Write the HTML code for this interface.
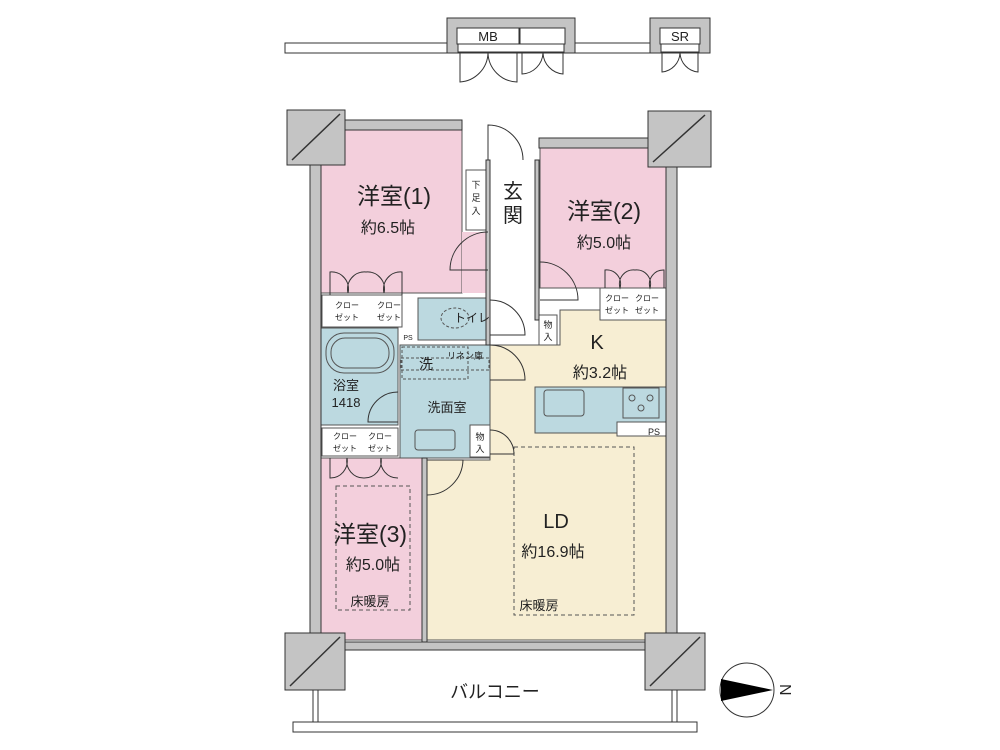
<!DOCTYPE html>
<html><head><meta charset="utf-8"><style>
html,body{margin:0;padding:0;background:#fff}
svg{display:block}
text{font-family:"Liberation Sans","Noto Sans CJK JP",sans-serif;fill:#222}
</style></head><body>
<svg width="1000" height="750" viewBox="0 0 1000 750" xmlns="http://www.w3.org/2000/svg">
<g stroke="#333" stroke-width="1">
<rect x="285" y="43" width="163" height="10" fill="#fff"/>
<rect x="575" y="43" width="75" height="10" fill="#fff"/>
<rect x="447" y="18" width="128" height="35" fill="#c4c4c4"/>
<rect x="457" y="28" width="62" height="16" fill="#fff"/>
<rect x="520" y="28" width="45" height="16" fill="#fff"/>
<rect x="458" y="44" width="106" height="8" fill="#fff"/>
<rect x="650" y="18" width="60" height="35" fill="#c4c4c4"/>
<rect x="660" y="28" width="40" height="16" fill="#fff"/>
<rect x="661" y="44" width="38" height="8" fill="#fff"/>
</g>
<g fill="none" stroke="#333" stroke-width="1">
<path d="M460 53 V82 A30 30 0 0 0 488 53 A30 30 0 0 0 517 82 V53"/>
<path d="M522 53 V74 A22 22 0 0 0 543 53 A22 22 0 0 0 563 74 V53"/>
<path d="M662 53 V72 A20 20 0 0 0 680 53 A20 20 0 0 0 698 72 V53"/>
</g>
<text x="488" y="41" font-size="13" text-anchor="middle">MB</text>
<text x="680" y="41" font-size="13" text-anchor="middle">SR</text>

<g stroke="#555" stroke-width="1">
<rect x="321" y="130" width="141" height="163" fill="#f3cfdc"/>
<rect x="462" y="232" width="26" height="61" fill="#f3cfdc" stroke="none"/>
<rect x="540" y="148" width="126" height="140" fill="#f3cfdc"/>
<path d="M560 310 H666 V640 H427 V460 H490 V345 H560 Z" fill="#f7eed3"/>
<rect x="321" y="458" width="101" height="182" fill="#f3cfdc"/>
<rect x="321" y="328" width="77" height="97" fill="#bcd9e0"/>
<rect x="400" y="345" width="90" height="113" fill="#bcd9e0"/>
<rect x="418" y="298" width="70" height="42" fill="#bcd9e0"/>
<rect x="535" y="387" width="131" height="46" fill="#bcd9e0"/>
<rect x="617" y="422" width="49" height="14" fill="#fff"/>
<rect x="322" y="295" width="80" height="32" fill="#fff"/>
<rect x="600" y="288" width="66" height="32" fill="#fff"/>
<rect x="322" y="428" width="76" height="28" fill="#fff"/>
<rect x="466" y="170" width="20" height="60" fill="#fff"/>
<rect x="539" y="315" width="18" height="30" fill="#fff"/>
<rect x="470" y="425" width="20" height="32" fill="#fff"/>
<rect x="401" y="358" width="88" height="12" fill="none" stroke-dasharray="3 2"/>
<rect x="402" y="347" width="66" height="32" fill="none" stroke-dasharray="3 2"/>
<rect x="336" y="486" width="74" height="124" fill="none" stroke-dasharray="4 3"/>
<rect x="514" y="447" width="120" height="168" fill="none" stroke-dasharray="4 3"/>
<rect x="326" y="333" width="68" height="40" rx="18" fill="#bcd9e0"/>
<rect x="331" y="338" width="58" height="30" rx="14" fill="none"/>
<rect x="544" y="390" width="40" height="26" rx="3" fill="#bcd9e0"/>
<rect x="623" y="388" width="36" height="30" fill="#bcd9e0"/>
<circle cx="632" cy="398" r="3" fill="none"/><circle cx="650" cy="398" r="3" fill="none"/><circle cx="641" cy="408" r="3" fill="none"/>
<rect x="415" y="430" width="40" height="20" rx="3" fill="#bcd9e0"/>
<ellipse cx="455" cy="318" rx="14" ry="10" fill="none" stroke-dasharray="3 2"/>
</g>
<g fill="#c4c4c4" stroke="#333" stroke-width="1">
<rect x="310" y="140" width="11" height="500"/>
<rect x="666" y="150" width="11" height="490"/>
<rect x="287" y="110" width="58" height="55"/>
<rect x="648" y="111" width="63" height="56"/>
<rect x="285" y="633" width="60" height="57"/>
<rect x="645" y="633" width="60" height="57"/>
<rect x="345" y="120" width="117" height="10"/>
<rect x="539" y="138" width="109" height="10"/>
<rect x="345" y="642" width="300" height="8"/>
<rect x="422" y="458" width="5" height="184"/>
<rect x="486" y="160" width="4" height="185"/>
<rect x="535" y="160" width="4" height="160"/>
</g>
<g stroke="#333" stroke-width="1.5">
<line x1="292" y1="160" x2="340" y2="114"/><line x1="653" y1="162" x2="705" y2="115"/>
<line x1="290" y1="686" x2="340" y2="637"/><line x1="650" y1="686" x2="700" y2="637"/>
</g>
<g stroke="#333" fill="#fff">
<rect x="293" y="722" width="404" height="10"/>
<line x1="313" y1="690" x2="313" y2="722"/><line x1="318" y1="690" x2="318" y2="722"/>
<line x1="672" y1="690" x2="672" y2="722"/><line x1="677" y1="690" x2="677" y2="722"/>
</g>
<g fill="none" stroke="#333">
<path d="M488 160 V125 A35 35 0 0 1 523 160"/>
<path d="M488 232 A38 38 0 0 0 450 270 H488"/>
<path d="M540 262 A38 38 0 0 1 578 300 H540"/>
<path d="M490 300 A35 35 0 0 1 525 335 H490"/>
<path d="M490 345 A35 35 0 0 1 525 380 H490"/>
<path d="M398 392 A30 30 0 0 0 368 422 H398"/>
<path d="M427 495 A36 36 0 0 0 463 460 H427"/>
<path d="M490 430 A24 24 0 0 1 514 454 H490"/>
<path d="M330 295 V272 A17 17 0 0 1 348 293 A17 17 0 0 1 366 272 A17 17 0 0 1 384 293 A17 17 0 0 1 402 272 V295"/>
<path d="M605 288 V270 A14 14 0 0 1 620 288 A14 14 0 0 1 635 270 A14 14 0 0 1 650 288 A14 14 0 0 1 664 270 V288"/>
<path d="M330 458 V478 A17 17 0 0 0 347 458 A17 17 0 0 0 364 478 A17 17 0 0 0 381 458 A17 17 0 0 0 398 478"/>
</g>
<circle cx="747" cy="690" r="27" fill="#fff" stroke="#333"/>
<polygon points="721,679 721,701 773,690" fill="#000"/>
<text x="0" y="0" font-size="16" transform="translate(780,684) rotate(90)">N</text>
<text x="394" y="204" font-size="23" text-anchor="middle">洋室(1)</text>
<text x="388" y="233" font-size="16" text-anchor="middle">約6.5帖</text>
<text x="604" y="219" font-size="23" text-anchor="middle">洋室(2)</text>
<text x="604" y="248" font-size="16" text-anchor="middle">約5.0帖</text>
<text x="513" y="198" font-size="20" text-anchor="middle">玄</text>
<text x="513" y="222" font-size="20" text-anchor="middle">関</text>
<text x="476" y="188" font-size="9" text-anchor="middle">下</text>
<text x="476" y="201" font-size="9" text-anchor="middle">足</text>
<text x="476" y="214" font-size="9" text-anchor="middle">入</text>
<text x="597" y="349" font-size="20" text-anchor="middle">K</text>
<text x="600" y="378" font-size="16" text-anchor="middle">約3.2帖</text>
<text x="556" y="528" font-size="20" text-anchor="middle">LD</text>
<text x="553" y="557" font-size="16" text-anchor="middle">約16.9帖</text>
<text x="539" y="610" font-size="13" text-anchor="middle">床暖房</text>
<text x="370" y="542" font-size="23" text-anchor="middle">洋室(3)</text>
<text x="373" y="570" font-size="16" text-anchor="middle">約5.0帖</text>
<text x="370" y="606" font-size="13" text-anchor="middle">床暖房</text>
<text x="346" y="390" font-size="13" text-anchor="middle">浴室</text>
<text x="346" y="407" font-size="13" text-anchor="middle">1418</text>
<text x="447" y="412" font-size="13" text-anchor="middle">洗面室</text>
<text x="426" y="369" font-size="14" text-anchor="middle">洗</text>
<text x="465" y="359" font-size="9" text-anchor="middle">リネン庫</text>
<text x="472" y="322" font-size="12" text-anchor="middle">トイレ</text>
<text x="408" y="340" font-size="7" text-anchor="middle">PS</text>
<text x="654" y="435" font-size="9" text-anchor="middle">PS</text>
<text x="548" y="328" font-size="9" text-anchor="middle">物</text>
<text x="548" y="340" font-size="9" text-anchor="middle">入</text>
<text x="480" y="440" font-size="9" text-anchor="middle">物</text>
<text x="480" y="452" font-size="9" text-anchor="middle">入</text>
<g font-size="8" text-anchor="middle">
<text x="347" y="308">クロー</text><text x="347" y="320">ゼット</text>
<text x="389" y="308">クロー</text><text x="389" y="320">ゼット</text>
<text x="617" y="301">クロー</text><text x="617" y="313">ゼット</text>
<text x="647" y="301">クロー</text><text x="647" y="313">ゼット</text>
<text x="345" y="439">クロー</text><text x="345" y="451">ゼット</text>
<text x="380" y="439">クロー</text><text x="380" y="451">ゼット</text>
</g>
<text x="495" y="698" font-size="18" text-anchor="middle">バルコニー</text>
</svg>
</body></html>
